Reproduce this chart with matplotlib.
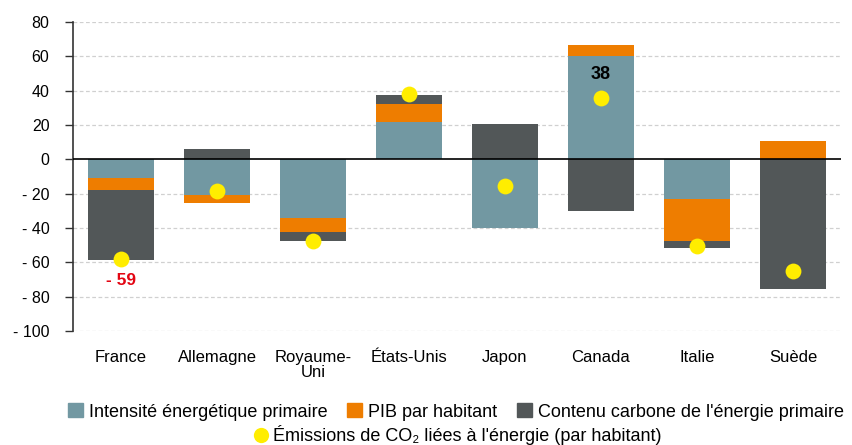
import matplotlib
matplotlib.use("Agg")
import matplotlib.pyplot as plt
import numpy as np
from matplotlib.patches import Patch
from matplotlib.lines import Line2D

plt.rcParams['font.family'] = ['Liberation Sans', 'DejaVu Sans']

countries = ["France", "Allemagne", "Royaume-\nUni", "États-Unis", "Japon",
             "Canada", "Italie", "Suède"]
intensite = [-11, -21, -34, 22, -40, 60, -23, 0]
pib = [-7, -4.5, -8.5, 10.5, 0, 6.5, -24.5, 10.5]
carbone = [-40.5, 6, -5, 5, 20.5, -30, -4, -75.5]
emissions = [-58, -18.5, -47.5, 38, -15.5, 36, -50.5, -65]

yticks = [80, 60, 40, 20, 0, -20, -40, -60, -80, -100]

c_blue = "#7298a2"
c_orange = "#ee7d00"
c_gray = "#525758"
c_yellow = "#ffed00"

fig = plt.figure(figsize=(8.53, 4.45), dpi=100)
ax = fig.add_axes([73/853, 1 - 331/445, 768/853, 309/445])

x = np.arange(len(countries))
w = 0.68
pos = np.zeros(len(countries))
neg = np.zeros(len(countries))
for vals, col in [(intensite, c_blue), (pib, c_orange), (carbone, c_gray)]:
    v = np.array(vals, dtype=float)
    bottom = np.where(v >= 0, pos, neg)
    ax.bar(x, v, w, bottom=bottom, color=col, zorder=2)
    pos = pos + np.where(v > 0, v, 0)
    neg = neg + np.where(v < 0, v, 0)

ax.scatter(x, emissions, s=130, color=c_yellow, zorder=4, linewidths=0)

ax.text(0, -70.5, "- 59", color="#e30613", fontsize=12.5, fontweight="bold",
        ha="center", va="center")
ax.text(5, 49.5, "38", color="black", fontsize=13, fontweight="bold",
        ha="center", va="center")

ax.set_xlim(-0.5, 7.5)
ax.set_ylim(-100, 80)
ax.set_yticks(yticks)
ax.set_yticklabels([str(t) if t >= 0 else "- " + str(-t) for t in yticks],
                   fontsize=11.5)
for t in yticks:
    if t != 0:
        ax.axhline(t, color="#d0d0d0", lw=0.9, ls=(0, (3, 2)), zorder=1)
ax.axhline(0, color="black", lw=1.2, zorder=3)

ax.set_xticks(x)
ax.set_xticklabels(countries, fontsize=12, linespacing=1.0)
ax.tick_params(axis="x", length=0, pad=14)
ax.tick_params(axis="y", length=6, width=1, color="#333333", pad=11)

for s in ["top", "right", "bottom"]:
    ax.spines[s].set_visible(False)
ax.spines["left"].set_color("#333333")
ax.spines["left"].set_linewidth(1.2)

h1 = [Patch(color=c_blue), Patch(color=c_orange), Patch(color=c_gray)]
l1 = ["Intensité énergétique primaire", "PIB par habitant",
      "Contenu carbone de l'énergie primaire"]
fig.legend(h1, l1, ncol=3, loc="center", bbox_to_anchor=(456/853, 1 - 412/445),
           frameon=False, fontsize=13, handlelength=0.8, handleheight=0.8,
           handletextpad=0.35, columnspacing=1.1, borderpad=0)
h2 = [Line2D([], [], marker="o", ls="", markersize=11,
             markerfacecolor=c_yellow, markeredgewidth=0)]
fig.legend(h2, ["Émissions de CO₂ liées à l'énergie (par habitant)"],
           loc="center", bbox_to_anchor=(458/853, 1 - 435/445),
           frameon=False, fontsize=13, handlelength=0.8, handletextpad=0.25,
           borderpad=0)

fig.savefig("out.png", dpi=100)
